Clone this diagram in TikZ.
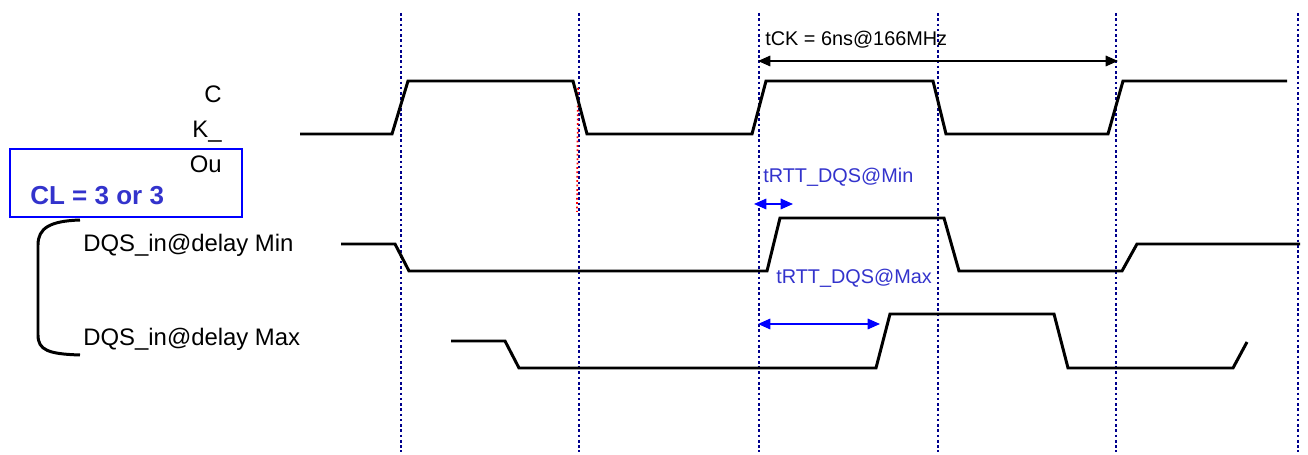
\documentclass[tikz,border=0pt]{standalone}
\usepackage{fontspec}
\setmainfont{Liberation Sans}
\usetikzlibrary{arrows.meta}
\definecolor{gridnavy}{RGB}{0,0,140}
\definecolor{notblue}{RGB}{51,51,204}
\tikzset{
	signal/.style={line width=1.7pt, line join=miter},
	tick/.style={gridnavy, line width=1.4pt, dash pattern=on 1.5pt off 1.5pt},
	sig label/.style={anchor=base west, inner sep=0pt, font=\fontsize{13.6}{16}\selectfont},
	time label/.style={anchor=base west, inner sep=0pt, font=\fontsize{11.3}{13}\selectfont},
}
\begin{document}
\begin{tikzpicture}[x=0.02cm, y=-0.02cm, >={Triangle[length=7pt,width=6pt]}, line cap=butt]
	\useasboundingbox (0,0) rectangle (1308,455);
	% Taktraster
	\foreach \x in {401,579,759,938,1116,1298}
		\draw[tick] (\x,13)--(\x,452);
	\draw[red, line width=1pt, dash pattern=on 1pt off 1.5pt] (578,88)--(577,212);
	% CLK
	\def\hi{81} \def\lo{134}
	\draw[signal] (300,\lo)--(392,\lo)--(408,\hi)--(573,\hi)--(587,\lo)--(752,\lo)--(766,\hi)
		--(933,\hi)--(946,\lo)--(1108,\lo)--(1123,\hi)--(1287,\hi);
	% DQS min
	\draw[signal] (341,244)--(395,244)--(409,271)--(767,271)--(780,218)--(944,218)--(959,271)
		--(1122,271)--(1137,244)--(1300,244);
	% DQS max
	\draw[signal] (451,341)--(505,341)--(519,368)--(876,368)--(890,314)--(1054,314)--(1068,368)
		--(1233,368)--(1247,342);
	% Beschriftung
	\node[sig label, anchor=base east] (c) at (222,103) {C};
	\node[sig label, anchor=base east] (k) at (222,138) {K\_};
	\node[sig label, anchor=base east] (ou) at (222,173) {Ou};
	\draw[blue, line width=1.7pt] (10,149) rectangle (242,217);
	\node[anchor=base west, inner sep=0pt, text=notblue, font=\fontsize{14.8}{17}\selectfont\bfseries] (cl) at (30,205) {CL = 3 or 3};
	\draw[line width=1.7pt] (80,220) .. controls (50,221) and (38,228) .. (38,245)
		-- (38,335) .. controls (38,350) and (48,354) .. (80,355);
	\node[sig label] (dqsmin) at (83,252) {DQS\_in@delay Min};
	\node[sig label] (dqsmax) at (83,346) {DQS\_in@delay Max};
	% Zeiten
	\coordinate (tcka) at (758,61); \coordinate (tckb) at (1118,61);
	\draw[<->, line width=0.9pt] (tcka)--(tckb);
	\node[time label] (tck) at (765,46) {tCK = 6ns@166MHz};
	\coordinate (mina) at (754,204); \coordinate (minb) at (793,204);
	\draw[<->, blue, line width=0.9pt] (mina)--(minb);
	\node[time label, text=notblue] (rttmin) at (763,183) {tRTT\_DQS@Min};
	\coordinate (maxa) at (758,324); \coordinate (maxb) at (880,324);
	\draw[<->, blue, line width=0.9pt] (maxa)--(maxb);
	\node[time label, text=notblue] (rttmax) at (776,284) {tRTT\_DQS@Max};
\end{tikzpicture}
\end{document}
